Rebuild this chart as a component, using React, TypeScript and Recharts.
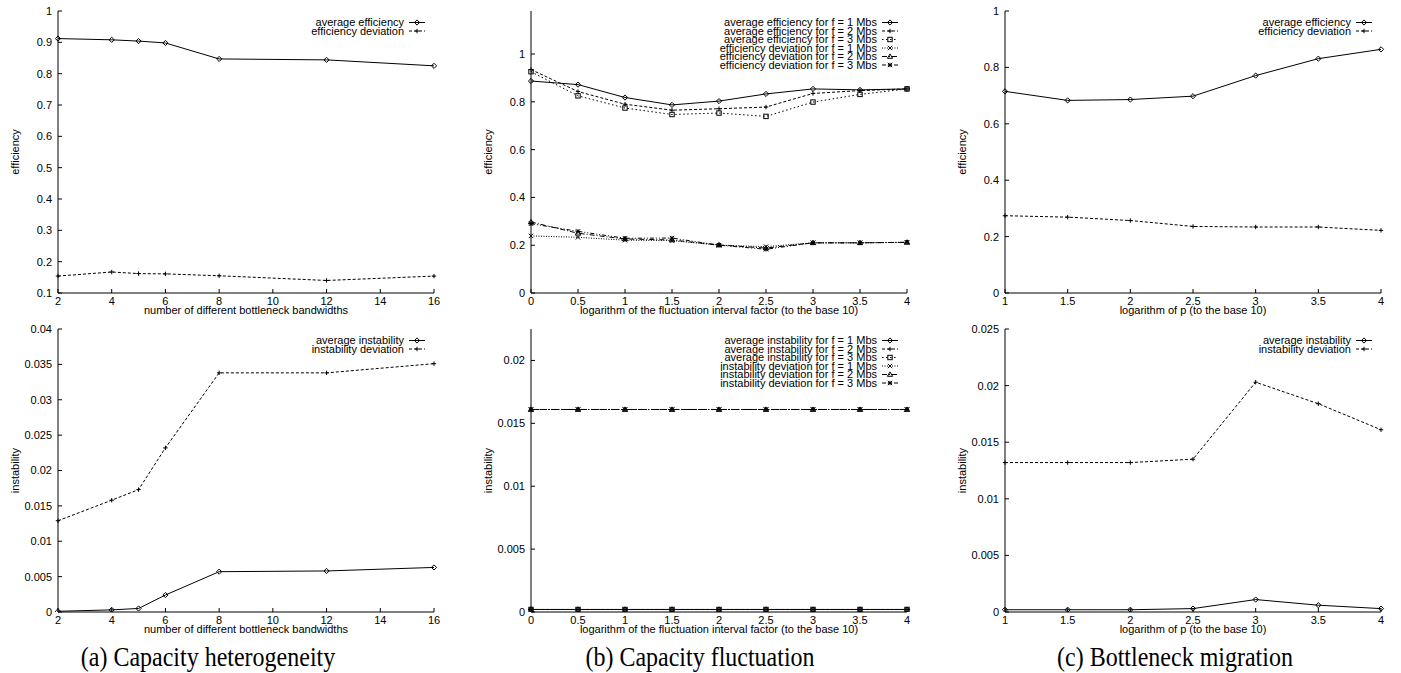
import { LineChart, Line, XAxis, YAxis, Legend } from "recharts"

const FONT = '"Liberation Sans", Arial, Helvetica, sans-serif'
const SERIF = '"Liberation Serif", "Times New Roman", serif'

// (a) capacity heterogeneity
const capX = [2, 4, 5, 6, 8, 12, 16]
const capAvgEff = [0.912, 0.908, 0.904, 0.898, 0.847, 0.844, 0.825]
const capDevEff = [0.154, 0.167, 0.162, 0.161, 0.155, 0.14, 0.154]
const capAvgInst = [0.0001, 0.0003, 0.0005, 0.0024, 0.0057, 0.0058, 0.0063]
const capDevInst = [0.0129, 0.0158, 0.0173, 0.0232, 0.0338, 0.0338, 0.0351]

// (b) capacity fluctuation
const flucX = [0, 0.5, 1, 1.5, 2, 2.5, 3, 3.5, 4]
const flucAvgEff1 = [0.887, 0.872, 0.818, 0.787, 0.803, 0.833, 0.854, 0.85, 0.854]
const flucAvgEff2 = [0.935, 0.843, 0.79, 0.765, 0.771, 0.778, 0.835, 0.847, 0.854]
const flucAvgEff3 = [0.926, 0.825, 0.774, 0.747, 0.753, 0.739, 0.799, 0.831, 0.854]
const flucDevEff1 = [0.239, 0.233, 0.221, 0.219, 0.2, 0.194, 0.21, 0.21, 0.212]
const flucDevEff2 = [0.297, 0.25, 0.226, 0.222, 0.201, 0.188, 0.21, 0.21, 0.212]
const flucDevEff3 = [0.29, 0.258, 0.229, 0.23, 0.2, 0.183, 0.21, 0.21, 0.212]
const flucAvgInst1 = [0.0002, 0.0002, 0.0002, 0.0002, 0.0002, 0.0002, 0.0002, 0.0002, 0.0002]
const flucAvgInst2 = [0.0002, 0.0002, 0.0002, 0.0002, 0.0002, 0.0002, 0.0002, 0.0002, 0.0002]
const flucAvgInst3 = [0.0002, 0.0002, 0.0002, 0.0002, 0.0002, 0.0002, 0.0002, 0.0002, 0.0002]
const flucDevInst1 = [0.0161, 0.0161, 0.0161, 0.0161, 0.0161, 0.0161, 0.0161, 0.0161, 0.0161]
const flucDevInst2 = [0.0161, 0.0161, 0.0161, 0.0161, 0.0161, 0.0161, 0.0161, 0.0161, 0.0161]
const flucDevInst3 = [0.0161, 0.0161, 0.0161, 0.0161, 0.0161, 0.0161, 0.0161, 0.0161, 0.0161]

// (c) bottleneck migration
const migX = [1, 1.5, 2, 2.5, 3, 3.5, 4]
const migAvgEff = [0.715, 0.683, 0.686, 0.698, 0.771, 0.831, 0.864]
const migDevEff = [0.274, 0.269, 0.257, 0.236, 0.234, 0.234, 0.222]
const migAvgInst = [0.0002, 0.0002, 0.0002, 0.0003, 0.0011, 0.0006, 0.0003]
const migDevInst = [0.0132, 0.0132, 0.0132, 0.0135, 0.0203, 0.0184, 0.0161]

// axis ticks
const capTicks = [2, 4, 6, 8, 10, 12, 14, 16]
const halfTicks04 = [0, 0.5, 1, 1.5, 2, 2.5, 3, 3.5, 4]
const halfTicks14 = [1, 1.5, 2, 2.5, 3, 3.5, 4]
const effTicksA = [0.1, 0.2, 0.3, 0.4, 0.5, 0.6, 0.7, 0.8, 0.9, 1]
const effTicksB = [0, 0.2, 0.4, 0.6, 0.8, 1]
const instTicksA = [0, 0.005, 0.01, 0.015, 0.02, 0.025, 0.03, 0.035, 0.04]
const instTicksB = [0, 0.005, 0.01, 0.015, 0.02]
const instTicksC = [0, 0.005, 0.01, 0.015, 0.02, 0.025]

const captions = ["(a) Capacity heterogeneity", "(b) Capacity fluctuation", "(c) Bottleneck migration"]

// gnuplot-ish line types: dash pattern + point type
const lineStyles = [
  { dash: undefined, marker: "diamond" },
  { dash: "3 2", marker: "plus" },
  { dash: "1.5 2.5", marker: "square" },
  { dash: "1 1.5", marker: "cross" },
  { dash: "5 2 1 2", marker: "triangle" },
  { dash: "4 2 1 2 1 2", marker: "star" },
]

type Series = { name: string; values: number[]; style: number }

function marker(kind: string, cx: number, cy: number, key: string) {
  if (cx == null || cy == null || isNaN(cx) || isNaN(cy)) return <g key={key} />
  const s = 2.2
  const common = { fill: "none", stroke: "#000", strokeWidth: 1 }
  switch (kind) {
    case "diamond":
      return <path key={key} {...common} d={`M${cx - 2.6},${cy}L${cx},${cy - 2.6}L${cx + 2.6},${cy}L${cx},${cy + 2.6}Z`} />
    case "plus":
      return <path key={key} {...common} d={`M${cx - s},${cy}H${cx + s}M${cx},${cy - s}V${cy + s}`} />
    case "square":
      return <rect key={key} {...common} x={cx - s} y={cy - s} width={s * 2} height={s * 2} />
    case "cross":
      return <path key={key} {...common} d={`M${cx - s},${cy - s}L${cx + s},${cy + s}M${cx - s},${cy + s}L${cx + s},${cy - s}`} />
    case "triangle":
      return <path key={key} {...common} d={`M${cx},${cy - 2.6}L${cx + 2.6},${cy + 1.8}L${cx - 2.6},${cy + 1.8}Z`} />
    default:
      return (
        <path
          key={key}
          {...common}
          d={`M${cx - s},${cy}H${cx + s}M${cx},${cy - s}V${cy + s}M${cx - s},${cy - s}L${cx + s},${cy + s}M${cx - s},${cy + s}L${cx + s},${cy - s}`}
        />
      )
  }
}

const LEGEND_W = 260

function KeyBox({ series }: { series: Series[] }) {
  const h = series.length * 8.5 + 12
  return (
    <svg width={LEGEND_W} height={h} style={{ display: "block", overflow: "visible" }}>
      {series.map((s, i) => {
        const y = 11.5 + i * 8.5
        const st = lineStyles[s.style]
        return (
          <g key={s.name}>
            <text x={LEGEND_W - 30} y={y} dy="0.35em" textAnchor="end" fontSize={11} fontFamily={FONT} fill="#000">
              {s.name}
            </text>
            <line x1={LEGEND_W - 25} x2={LEGEND_W - 9} y1={y} y2={y} stroke="#000" strokeDasharray={st.dash} />
            {marker(st.marker, LEGEND_W - 17, y, "k" + i)}
          </g>
        )
      })}
    </svg>
  )
}

type PanelProps = {
  plotLeft: number
  plotTop: number
  plotHeight: number
  xs: number[]
  xDomain: [number, number]
  xTicks: number[]
  yDomain: [number, number]
  yTicks: number[]
  xLabel: string
  yLabel: string
  series: Series[]
}

const tickStyle = { fill: "#000", fontSize: 11, fontFamily: FONT }

function Panel(p: PanelProps) {
  const yAxisW = 86
  const plotW = 376
  const rows = p.xs.map((x, i) => {
    const r: Record<string, number> = { x }
    p.series.forEach((s, j) => {
      r["s" + j] = s.values[i]
    })
    return r
  })
  return (
    <div style={{ position: "absolute", left: p.plotLeft - yAxisW, top: p.plotTop - 10 }}>
      <LineChart
        width={yAxisW + plotW + 10}
        height={p.plotHeight + 40}
        data={rows}
        margin={{ top: 10, right: 10, bottom: 0, left: 0 }}
      >
        <XAxis
          dataKey="x"
          type="number"
          domain={p.xDomain}
          ticks={p.xTicks}
          interval={0}
          height={30}
          tickSize={-4}
          tickMargin={8}
          tick={tickStyle}
          stroke="#000"
          label={{ value: p.xLabel, position: "insideBottom", offset: 9, fontSize: 11, fontFamily: FONT, fill: "#000" }}
        />
        <XAxis
          xAxisId="top"
          orientation="top"
          dataKey="x"
          type="number"
          domain={p.xDomain}
          ticks={p.xTicks}
          interval={0}
          height={0}
          tickSize={-4}
          tickFormatter={() => ""}
          stroke="#000"
        />
        <YAxis
          type="number"
          domain={p.yDomain}
          ticks={p.yTicks}
          interval={0}
          width={yAxisW}
          tickSize={-4}
          tickMargin={10}
          tick={tickStyle}
          stroke="#000"
          allowDataOverflow
          label={{ value: p.yLabel, angle: -90, position: "center", fontSize: 11, fontFamily: FONT, fill: "#000" }}
        />
        <YAxis
          yAxisId="right"
          orientation="right"
          type="number"
          domain={p.yDomain}
          ticks={p.yTicks}
          interval={0}
          width={0}
          tickSize={-4}
          tickFormatter={() => ""}
          stroke="#000"
          allowDataOverflow
        />
        {p.series.map((s, j) => {
          const st = lineStyles[s.style]
          return (
            <Line
              key={s.name}
              type="linear"
              dataKey={"s" + j}
              name={s.name}
              stroke="#000"
              strokeWidth={1}
              strokeDasharray={st.dash}
              dot={(d: any) => marker(st.marker, d.cx, d.cy, `${j}-${d.index}`)}
              activeDot={false}
              isAnimationActive={false}
            />
          )
        })}
        <Legend
          layout="vertical"
          align="center"
          verticalAlign="middle"
          width={LEGEND_W}
          wrapperStyle={{ top: 10, right: 10 }}
          content={() => <KeyBox series={p.series} />}
        />
      </LineChart>
    </div>
  )
}

const flucXLabel = "logarithm of the fluctuation interval factor (to the base 10)"
const migXLabel = "logarithm of p (to the base 10)"
const capXLabel = "number of different bottleneck bandwidths"

const captionX = [208, 700, 1175]

export default function App() {
  return (
    <div style={{ position: "absolute", left: 0, top: 0, width: 1401, height: 673, background: "#fff", overflow: "hidden" }}>
      <Panel
        plotLeft={58}
        plotTop={11}
        plotHeight={282}
        xs={capX}
        xDomain={[2, 16]}
        xTicks={capTicks}
        yDomain={[0.1, 1]}
        yTicks={effTicksA}
        xLabel={capXLabel}
        yLabel="efficiency"
        series={[
          { name: "average efficiency", values: capAvgEff, style: 0 },
          { name: "efficiency deviation", values: capDevEff, style: 1 },
        ]}
      />
      <Panel
        plotLeft={58}
        plotTop={329}
        plotHeight={283}
        xs={capX}
        xDomain={[2, 16]}
        xTicks={capTicks}
        yDomain={[0, 0.04]}
        yTicks={instTicksA}
        xLabel={capXLabel}
        yLabel="instability"
        series={[
          { name: "average instability", values: capAvgInst, style: 0 },
          { name: "instability deviation", values: capDevInst, style: 1 },
        ]}
      />
      <Panel
        plotLeft={531}
        plotTop={11}
        plotHeight={282}
        xs={flucX}
        xDomain={[0, 4]}
        xTicks={halfTicks04}
        yDomain={[0, 1.18]}
        yTicks={effTicksB}
        xLabel={flucXLabel}
        yLabel="efficiency"
        series={[
          { name: "average efficiency for f = 1 Mbs", values: flucAvgEff1, style: 0 },
          { name: "average efficiency for f = 2 Mbs", values: flucAvgEff2, style: 1 },
          { name: "average efficiency for f = 3 Mbs", values: flucAvgEff3, style: 2 },
          { name: "efficiency deviation for f = 1 Mbs", values: flucDevEff1, style: 3 },
          { name: "efficiency deviation for f = 2 Mbs", values: flucDevEff2, style: 4 },
          { name: "efficiency deviation for f = 3 Mbs", values: flucDevEff3, style: 5 },
        ]}
      />
      <Panel
        plotLeft={531}
        plotTop={329}
        plotHeight={283}
        xs={flucX}
        xDomain={[0, 4]}
        xTicks={halfTicks04}
        yDomain={[0, 0.0225]}
        yTicks={instTicksB}
        xLabel={flucXLabel}
        yLabel="instability"
        series={[
          { name: "average instability for f = 1 Mbs", values: flucAvgInst1, style: 0 },
          { name: "average instability for f = 2 Mbs", values: flucAvgInst2, style: 1 },
          { name: "average instability for f = 3 Mbs", values: flucAvgInst3, style: 2 },
          { name: "instability deviation for f = 1 Mbs", values: flucDevInst1, style: 3 },
          { name: "instability deviation for f = 2 Mbs", values: flucDevInst2, style: 4 },
          { name: "instability deviation for f = 3 Mbs", values: flucDevInst3, style: 5 },
        ]}
      />
      <Panel
        plotLeft={1005}
        plotTop={11}
        plotHeight={282}
        xs={migX}
        xDomain={[1, 4]}
        xTicks={halfTicks14}
        yDomain={[0, 1]}
        yTicks={effTicksB}
        xLabel={migXLabel}
        yLabel="efficiency"
        series={[
          { name: "average efficiency", values: migAvgEff, style: 0 },
          { name: "efficiency deviation", values: migDevEff, style: 1 },
        ]}
      />
      <Panel
        plotLeft={1005}
        plotTop={329}
        plotHeight={283}
        xs={migX}
        xDomain={[1, 4]}
        xTicks={halfTicks14}
        yDomain={[0, 0.025]}
        yTicks={instTicksC}
        xLabel={migXLabel}
        yLabel="instability"
        series={[
          { name: "average instability", values: migAvgInst, style: 0 },
          { name: "instability deviation", values: migDevInst, style: 1 },
        ]}
      />
      <svg width={1401} height={673} style={{ position: "absolute", left: 0, top: 0, pointerEvents: "none" }}>
        {captions.map((c, i) => (
          <text
            key={c}
            x={0}
            y={0}
            transform={`translate(${captionX[i]},666) scale(1,1.1)`}
            textAnchor="middle"
            fontSize={24}
            fontFamily={SERIF}
            fill="#000"
          >
            {c}
          </text>
        ))}
      </svg>
    </div>
  )
}
